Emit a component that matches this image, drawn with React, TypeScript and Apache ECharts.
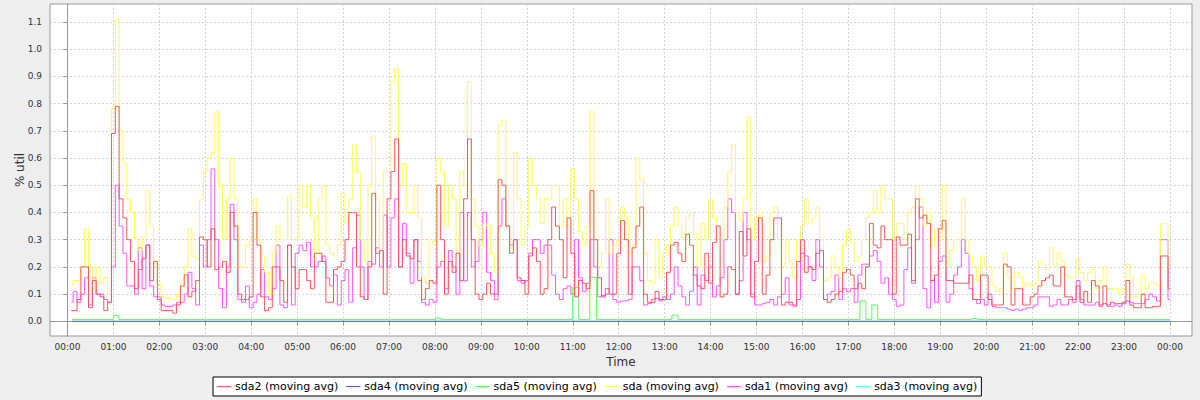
import React, { useEffect, useRef } from "react";
import * as echarts from "echarts";

// sampling grid of the moving averages (minutes after midnight)
const START_MIN = 5;
const STEP_MIN = 5;

// sda (yellow), one row per hour
const SDA: number[] = [
  0.13, 0.15, 0.15, 0.2, 0.34, 0.2, 0.12, 0.2, 0.14, 0.16, 0.1,
  0.78, 1.11, 0.7, 0.58, 0.45, 0.4, 0.3, 0.26, 0.31, 0.48, 0.35, 0.21,
  0.14, 0.09, 0.085, 0.085, 0.08, 0.1, 0.14, 0.2, 0.34, 0.24, 0.23, 0.45,
  0.55, 0.6, 0.62, 0.77, 0.5, 0.3, 0.45, 0.6, 0.45, 0.2, 0.2, 0.28,
  0.3, 0.45, 0.3, 0.24, 0.18, 0.1, 0.25, 0.35, 0.3, 0.3, 0.46, 0.3,
  0.3, 0.5, 0.42, 0.5, 0.38, 0.25, 0.45, 0.5, 0.28, 0.25, 0.24, 0.28,
  0.47, 0.36, 0.45, 0.65, 0.55, 0.3, 0.22, 0.5, 0.68, 0.45, 0.26, 0.55,
  0.55, 0.88, 0.93, 0.5, 0.58, 0.4, 0.4, 0.5, 0.38, 0.16, 0.14, 0.3,
  0.28, 0.6, 0.55, 0.35, 0.5, 0.45, 0.25, 0.55, 0.5, 0.88, 0.45, 0.35,
  0.28, 0.36, 0.35, 0.25, 0.18, 0.72, 0.74, 0.35, 0.27, 0.62, 0.45, 0.28,
  0.35, 0.6, 0.5, 0.45, 0.36, 0.45, 0.45, 0.5, 0.5, 0.35, 0.45, 0.35,
  0.56, 0.45, 0.33, 0.28, 0.35, 0.77, 0.3, 0.2, 0.25, 0.45, 0.25, 0.28,
  0.3, 0.42, 0.38, 0.25, 0.28, 0.6, 0.52, 0.25, 0.15, 0.14, 0.3, 0.16,
  0.25, 0.28, 0.35, 0.42, 0.35, 0.3, 0.38, 0.4, 0.32, 0.2, 0.36, 0.3,
  0.45, 0.38, 0.3, 0.3, 0.42, 0.55, 0.65, 0.4, 0.37, 0.45, 0.75, 0.3,
  0.38, 0.4, 0.22, 0.24, 0.4, 0.42, 0.3, 0.2, 0.3, 0.22, 0.16, 0.3,
  0.35, 0.45, 0.36, 0.38, 0.42, 0.3, 0.15, 0.16, 0.24, 0.2, 0.16, 0.28,
  0.34, 0.29, 0.22, 0.24, 0.3, 0.38, 0.4, 0.48, 0.4, 0.5, 0.45, 0.45,
  0.3, 0.36, 0.36, 0.3, 0.4, 0.42, 0.5, 0.45, 0.35, 0.4, 0.28, 0.34,
  0.3, 0.5, 0.2, 0.26, 0.3, 0.3, 0.45, 0.3, 0.24, 0.2, 0.15, 0.24,
  0.2, 0.2, 0.13, 0.11, 0.12, 0.25, 0.16, 0.12, 0.18, 0.16, 0.13, 0.14,
  0.13, 0.14, 0.22, 0.21, 0.19, 0.27, 0.2, 0.25, 0.22, 0.17, 0.16, 0.16,
  0.23, 0.18, 0.15, 0.18, 0.19, 0.12, 0.15, 0.2, 0.12, 0.12, 0.12, 0.1,
  0.12, 0.21, 0.16, 0.09, 0.1, 0.17, 0.12, 0.14, 0.14, 0.13, 0.36, 0.36,
  0.2,
];

// sda2 (red)
const SDA2: number[] = [
  0.04, 0.04, 0.08, 0.2, 0.2, 0.05, 0.15, 0.1, 0.09, 0.04, 0.07,
  0.69, 0.79, 0.45, 0.38, 0.3, 0.22, 0.12, 0.19, 0.23, 0.28, 0.15, 0.22,
  0.08, 0.04, 0.04, 0.04, 0.03, 0.06, 0.13, 0.17, 0.09, 0.11, 0.15, 0.31,
  0.3, 0.2, 0.34, 0.19, 0.2, 0.22, 0.18, 0.4, 0.35, 0.1, 0.08, 0.08,
  0.09, 0.4, 0.28, 0.09, 0.04, 0.05, 0.2, 0.2, 0.15, 0.07, 0.28, 0.2,
  0.12, 0.19, 0.19, 0.15, 0.12, 0.25, 0.25, 0.22, 0.07, 0.07, 0.19, 0.2,
  0.22, 0.3, 0.4, 0.4, 0.2, 0.09, 0.08, 0.2, 0.47, 0.25, 0.26, 0.1,
  0.45, 0.55, 0.67, 0.2, 0.3, 0.24, 0.23, 0.3, 0.15, 0.08, 0.12, 0.15,
  0.14, 0.5, 0.3, 0.1, 0.22, 0.18, 0.25, 0.15, 0.45, 0.67, 0.3, 0.1,
  0.08, 0.1, 0.14, 0.1, 0.1, 0.52, 0.5, 0.35, 0.25, 0.3, 0.16, 0.15,
  0.1, 0.24, 0.27, 0.22, 0.1, 0.12, 0.3, 0.42, 0.35, 0.3, 0.16, 0.38,
  0.25, 0.09, 0.15, 0.14, 0.12, 0.48, 0.3, 0.16, 0.09, 0.12, 0.1, 0.1,
  0.25, 0.37, 0.3, 0.1, 0.27, 0.35, 0.42, 0.1, 0.07, 0.07, 0.11, 0.08,
  0.08, 0.18, 0.28, 0.29, 0.25, 0.22, 0.32, 0.28, 0.17, 0.13, 0.12, 0.25,
  0.14, 0.29, 0.35, 0.09, 0.1, 0.2, 0.19, 0.1, 0.33, 0.24, 0.34, 0.09,
  0.22, 0.38, 0.1, 0.17, 0.3, 0.38, 0.38, 0.06, 0.07, 0.07, 0.06, 0.22,
  0.3, 0.18, 0.2, 0.19, 0.25, 0.26, 0.08, 0.07, 0.08, 0.1, 0.11, 0.18,
  0.19, 0.17, 0.12, 0.14, 0.12, 0.2, 0.36, 0.28, 0.27, 0.35, 0.3, 0.3,
  0.1, 0.31, 0.28, 0.28, 0.32, 0.15, 0.45, 0.38, 0.39, 0.36, 0.15, 0.17,
  0.34, 0.37, 0.15, 0.15, 0.14, 0.14, 0.14, 0.14, 0.17, 0.08, 0.08, 0.17,
  0.17, 0.08, 0.06, 0.06, 0.06, 0.21, 0.2, 0.06, 0.12, 0.12, 0.06, 0.06,
  0.09, 0.1, 0.13, 0.15, 0.16, 0.17, 0.13, 0.13, 0.2, 0.09, 0.09, 0.08,
  0.13, 0.07, 0.11, 0.07, 0.15, 0.13, 0.06, 0.13, 0.06, 0.07, 0.065, 0.065,
  0.07, 0.15, 0.06, 0.05, 0.05, 0.1, 0.05, 0.05, 0.055, 0.055, 0.24, 0.24,
  0.12,
];

// sda1 (magenta)
const SDA1: number[] = [
  0.07, 0.11, 0.07, 0.1, 0.16, 0.06, 0.16, 0.1, 0.1, 0.08, 0.07,
  0.2, 0.5, 0.35, 0.25, 0.13, 0.13, 0.1, 0.27, 0.12, 0.28, 0.13, 0.09,
  0.09, 0.06, 0.055, 0.055, 0.06, 0.07, 0.07, 0.1, 0.18, 0.12, 0.06, 0.28,
  0.2, 0.3, 0.56, 0.3, 0.12, 0.05, 0.2, 0.43, 0.3, 0.08, 0.07, 0.13,
  0.05, 0.07, 0.1, 0.19, 0.09, 0.08, 0.12, 0.28, 0.06, 0.05, 0.28, 0.06,
  0.25, 0.28, 0.26, 0.29, 0.2, 0.2, 0.22, 0.24, 0.16, 0.13, 0.17, 0.06,
  0.15, 0.19, 0.07, 0.27, 0.39, 0.2, 0.08, 0.22, 0.21, 0.27, 0.2, 0.39,
  0.2, 0.38, 0.45, 0.2, 0.36, 0.25, 0.14, 0.3, 0.22, 0.07, 0.06, 0.08,
  0.07, 0.2, 0.22, 0.12, 0.26, 0.2, 0.1, 0.4, 0.15, 0.4, 0.2, 0.22,
  0.3, 0.4, 0.18, 0.15, 0.08, 0.35, 0.45, 0.35, 0.28, 0.3, 0.15, 0.14,
  0.15, 0.25, 0.3, 0.3, 0.25, 0.28, 0.28, 0.17, 0.1, 0.08, 0.12, 0.13,
  0.1, 0.3, 0.16, 0.11, 0.14, 0.3, 0.2, 0.09, 0.095, 0.1, 0.3, 0.08,
  0.07, 0.075, 0.075, 0.08, 0.2, 0.2, 0.15, 0.06, 0.065, 0.08, 0.085, 0.075,
  0.09, 0.08, 0.1, 0.2, 0.13, 0.09, 0.06, 0.11, 0.2, 0.06, 0.17, 0.15,
  0.2, 0.09, 0.13, 0.16, 0.3, 0.45, 0.4, 0.1, 0.15, 0.4, 0.3, 0.1,
  0.06, 0.06, 0.065, 0.07, 0.08, 0.06, 0.09, 0.1, 0.16, 0.06, 0.055, 0.08,
  0.25, 0.24, 0.2, 0.15, 0.3, 0.2, 0.08, 0.1, 0.11, 0.17, 0.08, 0.12,
  0.11, 0.12, 0.07, 0.17, 0.21, 0.21, 0.24, 0.26, 0.22, 0.14, 0.16, 0.1,
  0.08, 0.055, 0.06, 0.19, 0.27, 0.14, 0.3, 0.42, 0.12, 0.05, 0.15, 0.07,
  0.22, 0.24, 0.07, 0.1, 0.17, 0.2, 0.3, 0.25, 0.12, 0.08, 0.065, 0.08,
  0.06, 0.1, 0.055, 0.05, 0.05, 0.05, 0.045, 0.04, 0.045, 0.04, 0.045, 0.05,
  0.05, 0.06, 0.09, 0.09, 0.09, 0.055, 0.06, 0.08, 0.06, 0.06, 0.08, 0.07,
  0.15, 0.08, 0.06, 0.06, 0.06, 0.07, 0.055, 0.065, 0.055, 0.055, 0.06, 0.055,
  0.065, 0.075, 0.07, 0.065, 0.065, 0.065, 0.08, 0.1, 0.09, 0.075, 0.3, 0.3,
  0.08,
];

// sda5 (green): [hour, value] change points, value held until the next point
const SDA5_STEPS: [number, number][] = [
  [0.1, 0.007], [1.0, 0.022], [1.12, 0.007], [8.02, 0.012], [8.13, 0.007],
  [11.0, 0.125], [11.13, 0.007], [11.37, 0.162], [11.52, 0.007],
  [13.16, 0.023], [13.29, 0.007], [17.25, 0.075], [17.38, 0.007],
  [17.51, 0.06], [17.64, 0.007], [19.67, 0.01], [19.8, 0.007], [24.0, 0.007],
];
// sda4 (blue) and sda3 (cyan): flat at zero
const SDA4_STEPS: [number, number][] = [[0.1, 0], [24.0, 0]];
const SDA3_STEPS: [number, number][] = [[0.1, 0], [24.0, 0]];

const X_TICKS = [0, 1, 2, 3, 4, 5, 6, 7, 8, 9, 10, 11, 12, 13, 14, 15, 16, 17, 18, 19, 20, 21, 22, 23, 24];
const Y_TICKS = [0, 0.1, 0.2, 0.3, 0.4, 0.5, 0.6, 0.7, 0.8, 0.9, 1.0, 1.1];

const NAMES = {
  sda2: "sda2 (moving avg)",
  sda4: "sda4 (moving avg)",
  sda5: "sda5 (moving avg)",
  sda: "sda (moving avg)",
  sda1: "sda1 (moving avg)",
  sda3: "sda3 (moving avg)",
};
const LEGEND_ORDER = [NAMES.sda2, NAMES.sda4, NAMES.sda5, NAMES.sda, NAMES.sda1, NAMES.sda3];

const COLORS = {
  sda2: "#FF5555",
  sda4: "#5555FF",
  sda5: "#55FF55",
  sda: "#FFFF55",
  sda1: "#FF55FF",
  sda3: "#55FFFF",
};

const FONT = "DejaVu Sans";

function toPairs(values: number[]): [number, number][] {
  return values.map((v, i) => [(START_MIN + i * STEP_MIN) / 60, v]);
}

function lineSeries(name: string, color: string, data: [number, number][], step: string) {
  return {
    type: "line",
    name,
    data,
    step,
    symbol: "none",
    showSymbol: false,
    silent: true,
    lineStyle: { color, width: 1 },
    itemStyle: { color },
  };
}

export default function App() {
  const ref = useRef<HTMLDivElement>(null);

  useEffect(() => {
    if (!ref.current) return;
    const chart = echarts.init(ref.current, undefined, { renderer: "svg" });
    const option = {
      animation: false,
      backgroundColor: "#EEEEEE",
      textStyle: { fontFamily: FONT },
      grid: {
        left: 50,
        right: 8,
        top: 4,
        bottom: 64,
        show: true,
        backgroundColor: "#FFFFFF",
        borderColor: "#9A9A9A",
        borderWidth: 1,
      },
      legend: {
        data: LEGEND_ORDER,
        left: 213,
        top: 377,
        orient: "horizontal",
        padding: [4, 4, 4, 4],
        itemGap: 8,
        itemWidth: 14,
        itemHeight: 1,
        icon: "rect",
        borderColor: "#000000",
        borderWidth: 1,
        backgroundColor: "#FFFFFF",
        borderRadius: 0,
        textStyle: { fontFamily: FONT, fontSize: 11, color: "#000000", padding: [0, 0, 0, -1] },
      },
      xAxis: {
        type: "value",
        min: -0.38,
        max: 24.48,
        name: "Time",
        nameLocation: "middle",
        nameGap: 20,
        nameTextStyle: { fontFamily: FONT, fontSize: 12, color: "#333333" },
        axisLine: { show: true, lineStyle: { color: "#9A9A9A", width: 1 } },
        axisTick: { show: true, length: 4, lineStyle: { color: "#9A9A9A" }, customValues: X_TICKS },
        axisLabel: {
          customValues: X_TICKS,
          margin: 6,
          fontFamily: FONT,
          fontSize: 9,
          color: "#333333",
          formatter: (v: number) => {
            const h = Math.round(v) % 24;
            return (h < 10 ? "0" : "") + h + ":00";
          },
        },
        splitLine: { show: true, lineStyle: { color: "#D4D4D4", type: [2, 2], width: 1 } },
      },
      yAxis: {
        type: "value",
        min: -0.054,
        max: 1.166,
        name: "% util",
        nameLocation: "middle",
        nameGap: 24,
        nameMoveOverlap: false,
        nameTextStyle: { fontFamily: FONT, fontSize: 12, color: "#333333" },
        axisLine: { show: true, lineStyle: { color: "#9A9A9A", width: 1 } },
        axisTick: { show: true, length: 4, lineStyle: { color: "#9A9A9A" }, customValues: Y_TICKS },
        axisLabel: {
          customValues: Y_TICKS,
          margin: 8,
          fontFamily: FONT,
          fontSize: 9,
          color: "#333333",
          formatter: (v: number) => v.toFixed(1),
        },
        splitLine: { show: true, lineStyle: { color: "#D4D4D4", type: [2, 2], width: 1 } },
      },
      series: [
        lineSeries(NAMES.sda3, COLORS.sda3, SDA3_STEPS, "end"),
        lineSeries(NAMES.sda1, COLORS.sda1, toPairs(SDA1), "middle"),
        lineSeries(NAMES.sda, COLORS.sda, toPairs(SDA), "middle"),
        lineSeries(NAMES.sda5, COLORS.sda5, SDA5_STEPS, "end"),
        lineSeries(NAMES.sda4, COLORS.sda4, SDA4_STEPS, "end"),
        lineSeries(NAMES.sda2, COLORS.sda2, toPairs(SDA2), "middle"),
      ],
    };
    chart.setOption(option as any);
    return () => chart.dispose();
  }, []);

  return (
    <div
      ref={ref}
      style={{ position: "absolute", left: 0, top: 0, width: 1200, height: 400 }}
    />
  );
}
